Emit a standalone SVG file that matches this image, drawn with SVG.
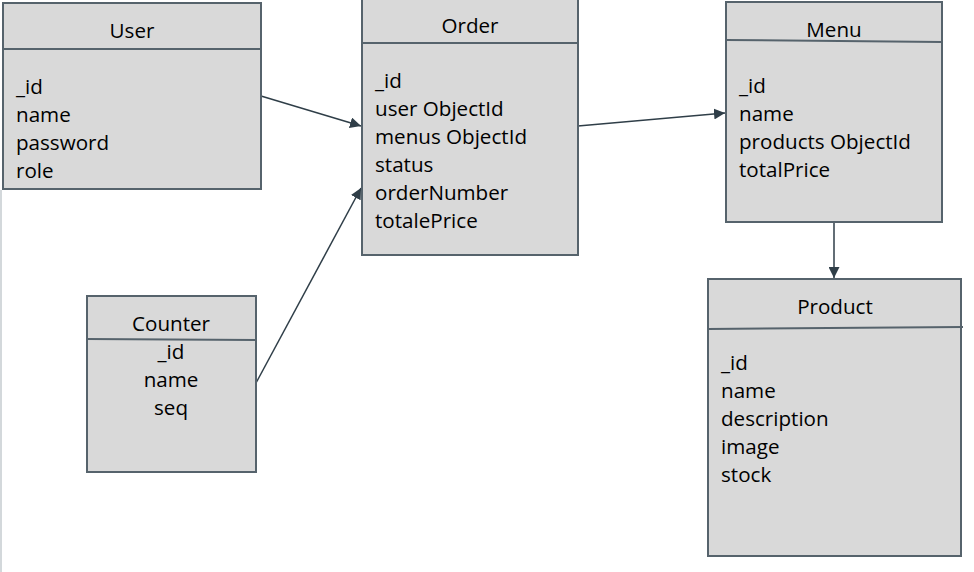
<svg xmlns="http://www.w3.org/2000/svg" width="974" height="572" viewBox="0 0 974 572">
<defs>
<style>
.box{fill:#d9d9d9;stroke:#56636c;stroke-width:2}
.div{stroke:#56636c;stroke-width:2;fill:none}
.t{font-family:"Open Sans","Noto Sans",sans-serif;font-size:20.6px;fill:#000}
.c{text-anchor:middle}
.con{stroke:#2f3e48;stroke-width:1.5;fill:none;marker-end:url(#ah)}
</style>
<marker id="ah" viewBox="0 0 10 10" refX="10" refY="5" markerWidth="11" markerHeight="11" markerUnits="userSpaceOnUse" orient="auto">
<path d="M0,0 L10,5 L0,10 z" fill="#2f3e48"/>
</marker>
</defs>
<rect width="974" height="572" fill="#ffffff"/>
<line x1="1" y1="190" x2="1" y2="572" stroke="#c5cbcf" stroke-width="1.5"/>
<g id="connectors">
<line class="con" x1="261" y1="96" x2="361" y2="126"/>
<line class="con" x1="256" y1="383" x2="361" y2="188"/>
<line class="con" x1="578" y1="126" x2="725" y2="113"/>
<line class="con" x1="834" y1="222" x2="834" y2="278"/>
</g>
<g id="user">
<rect class="box" x="3" y="3" width="258" height="186"/>
<line class="div" x1="3" y1="49" x2="261" y2="49"/>
<text class="t c" x="132" y="38">User</text>
<text class="t" x="16" y="94">_id</text>
<text class="t" x="16" y="122">name</text>
<text class="t" x="16" y="150">password</text>
<text class="t" x="16" y="178">role</text>
</g>
<g id="order">
<rect class="box" x="362" y="-2" width="216" height="257"/>
<line class="div" x1="362" y1="43" x2="578" y2="43"/>
<text class="t c" x="470" y="33">Order</text>
<text class="t" x="375" y="88">_id</text>
<text class="t" x="375" y="116">user ObjectId</text>
<text class="t" x="375" y="144">menus ObjectId</text>
<text class="t" x="375" y="172">status</text>
<text class="t" x="375" y="200">orderNumber</text>
<text class="t" x="375" y="228">totalePrice</text>
</g>
<g id="menu">
<rect class="box" x="726" y="2" width="216" height="220"/>
<line class="div" x1="726" y1="40" x2="942" y2="42"/>
<text class="t c" x="834" y="37">Menu</text>
<text class="t" x="739" y="93">_id</text>
<text class="t" x="739" y="121">name</text>
<text class="t" x="739" y="149">products ObjectId</text>
<text class="t" x="739" y="177">totalPrice</text>
</g>
<g id="product">
<rect class="box" x="708" y="279" width="253" height="277"/>
<line class="div" x1="708" y1="329" x2="963" y2="327"/>
<text class="t c" x="835" y="314">Product</text>
<text class="t" x="721" y="370">_id</text>
<text class="t" x="721" y="398">name</text>
<text class="t" x="721" y="426">description</text>
<text class="t" x="721" y="454">image</text>
<text class="t" x="721" y="482">stock</text>
</g>
<g id="counter">
<rect class="box" x="87" y="296" width="169" height="176"/>
<line class="div" x1="87" y1="339" x2="256" y2="340"/>
<text class="t c" x="171" y="331">Counter</text>
<text class="t c" x="171" y="359">_id</text>
<text class="t c" x="171" y="387">name</text>
<text class="t c" x="171" y="415">seq</text>
</g>
</svg>
